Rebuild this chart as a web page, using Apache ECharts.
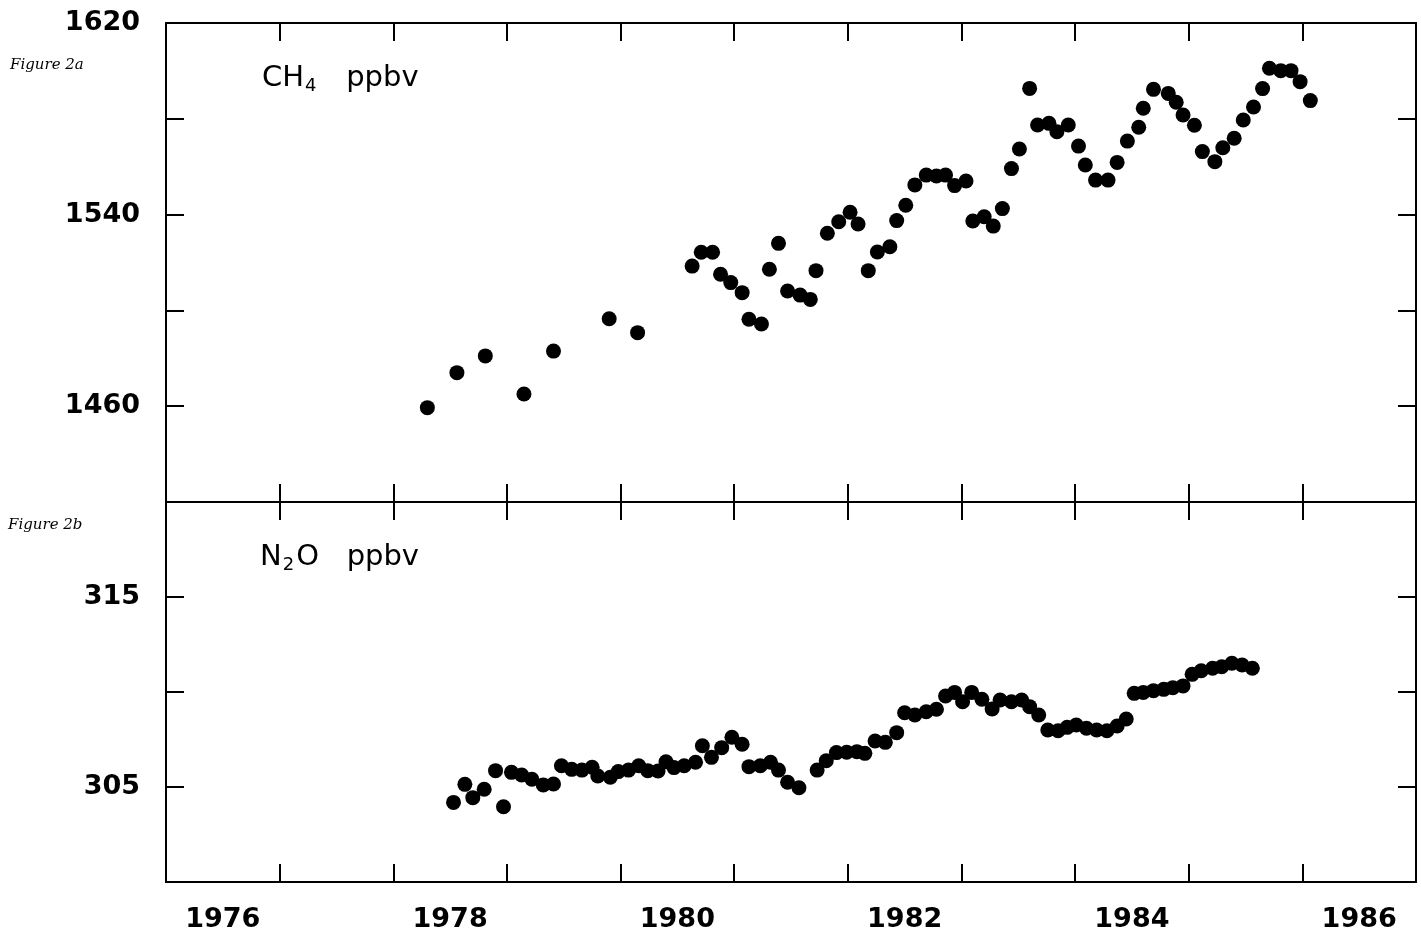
<!DOCTYPE html>
<html>
<head>
<meta charset="utf-8">
<title>CH4 / N2O</title>
<script src="https://cdn.jsdelivr.net/npm/echarts@6/dist/echarts.min.js"></script>
<style>
  html, body { margin: 0; padding: 0; background: #fff; }
  #chart { width: 1421px; height: 943px; }
</style>
</head>
<body>
<div id="chart"></div>
<script>
// x in decimal years, ticks on year boundaries, labels mid-year
var yearTicks = [1977, 1978, 1979, 1980, 1981, 1982, 1983, 1984, 1985, 1986];
var yearLabels = [1976.5, 1978.5, 1980.5, 1982.5, 1984.5, 1986.5];

var ch4Ticks = [1460, 1500, 1540, 1580];
var ch4Labels = [1460, 1540, 1620];
var n2oTicks = [305, 310, 315];
var n2oLabels = [305, 315];

// Figure 2a, CH4 (ppbv)
var ch4Years = [1978.30, 1978.56, 1978.81, 1979.15, 1979.41, 1979.90, 1980.15, 1980.63, 1980.71, 1980.81,
  1980.88, 1980.97, 1981.07, 1981.13, 1981.24, 1981.31, 1981.39, 1981.47, 1981.58, 1981.67,
  1981.72, 1981.82, 1981.92, 1982.02, 1982.09, 1982.18, 1982.26, 1982.37, 1982.43, 1982.51,
  1982.59, 1982.69, 1982.78, 1982.86, 1982.94, 1983.04, 1983.10, 1983.20, 1983.28, 1983.36,
  1983.44, 1983.51, 1983.60, 1983.67, 1983.77, 1983.84, 1983.94, 1984.03, 1984.09, 1984.18,
  1984.29, 1984.37, 1984.46, 1984.56, 1984.60, 1984.69, 1984.82, 1984.89, 1984.95, 1985.05,
  1985.12, 1985.23, 1985.30, 1985.40, 1985.48, 1985.57, 1985.65, 1985.71, 1985.81, 1985.90,
  1985.98, 1986.07];
var ch4Values = [1459.4, 1474.0, 1481.0, 1465.1, 1483.0, 1496.5, 1490.7, 1518.5, 1524.3, 1524.3,
  1515.1, 1511.6, 1507.4, 1496.3, 1494.3, 1517.2, 1528.0, 1508.1, 1506.4, 1504.6,
  1516.6, 1532.2, 1537.0, 1541.0, 1536.1, 1516.6, 1524.4, 1526.6, 1537.5, 1543.9,
  1552.4, 1556.5, 1556.1, 1556.5, 1552.1, 1554.0, 1537.3, 1539.1, 1535.2, 1542.5,
  1559.2, 1567.4, 1592.7, 1577.4, 1578.1, 1574.6, 1577.4, 1568.6, 1560.7, 1554.4,
  1554.4, 1561.8, 1570.7, 1576.5, 1584.4, 1592.3, 1590.6, 1586.9, 1581.6, 1577.3,
  1566.3, 1562.1, 1567.9, 1571.9, 1579.5, 1584.9, 1592.6, 1601.1, 1600.1, 1600.1,
  1595.5, 1587.6];

// Figure 2b, N2O (ppbv)
var n2oYears = [1978.53, 1978.63, 1978.70, 1978.80, 1978.90, 1978.97, 1979.04, 1979.13, 1979.22, 1979.32,
  1979.41, 1979.48, 1979.57, 1979.66, 1979.75, 1979.80, 1979.91, 1979.98, 1980.07, 1980.16,
  1980.24, 1980.33, 1980.40, 1980.47, 1980.56, 1980.66, 1980.72, 1980.80, 1980.89, 1980.98,
  1981.07, 1981.13, 1981.23, 1981.32, 1981.39, 1981.47, 1981.57, 1981.73, 1981.81, 1981.90,
  1981.99, 1982.08, 1982.15, 1982.24, 1982.33, 1982.43, 1982.50, 1982.59, 1982.69, 1982.78,
  1982.86, 1982.94, 1983.01, 1983.09, 1983.18, 1983.27, 1983.34, 1983.44, 1983.53, 1983.60,
  1983.68, 1983.76, 1983.85, 1983.93, 1984.01, 1984.10, 1984.19, 1984.28, 1984.37, 1984.45,
  1984.52, 1984.60, 1984.69, 1984.78, 1984.86, 1984.95, 1985.03, 1985.11, 1985.21, 1985.29,
  1985.38, 1985.47, 1985.56];
var n2oValues = [304.19, 305.14, 304.44, 304.88, 305.86, 303.96, 305.77, 305.63, 305.41, 305.11,
  305.16, 306.12, 305.93, 305.89, 306.04, 305.58, 305.51, 305.81, 305.89, 306.12,
  305.86, 305.84, 306.33, 306.02, 306.12, 306.30, 307.17, 306.56, 307.07, 307.62,
  307.25, 306.07, 306.12, 306.30, 305.89, 305.25, 304.96, 305.89, 306.38, 306.81,
  306.83, 306.86, 306.77, 307.42, 307.35, 307.86, 308.91, 308.79, 308.96, 309.09,
  309.79, 309.98, 309.49, 309.98, 309.62, 309.11, 309.58, 309.49, 309.58, 309.23,
  308.79, 308.00, 307.96, 308.14, 308.26, 308.09, 308.00, 307.96, 308.21, 308.58,
  309.93, 309.98, 310.07, 310.14, 310.23, 310.32, 310.93, 311.12, 311.25, 311.33,
  311.51, 311.42, 311.25];

var ink = '#000';
var labelFont = { color: ink, fontFamily: 'DejaVu Sans', fontWeight: 'bold', fontSize: 27 };

function xAxisFor(grid, pos, withLabels) {
  return {
    type: 'value', gridIndex: grid, position: pos,
    min: 1976, max: 1987, interval: 1,
    axisLine: { show: true, onZero: false, lineStyle: { color: ink, width: 2 } },
    axisTick: { show: true, inside: true, length: 18, customValues: yearTicks,
      lineStyle: { color: ink, width: 2 } },
    axisLabel: withLabels ? Object.assign({
      show: true, margin: 24, customValues: yearLabels,
      formatter: function (v) { return String(Math.floor(v)); }
    }, labelFont) : { show: false },
    splitLine: { show: false }
  };
}

function yAxisFor(grid, pos, min, max, ticks, labels) {
  return {
    type: 'value', gridIndex: grid, position: pos, min: min, max: max,
    axisLine: { show: true, onZero: false, lineStyle: { color: ink, width: 2 } },
    axisTick: { show: true, inside: true, length: 18, customValues: ticks,
      lineStyle: { color: ink, width: 2 } },
    axisLabel: labels ? Object.assign({
      show: true, margin: 26, customValues: labels,
      formatter: function (v) { return String(v); }
    }, labelFont) : { show: false },
    splitLine: { show: false }
  };
}

function pairs(xs, ys) {
  return xs.map(function (x, i) { return [x, ys[i]]; });
}

var dotStyle = { color: ink, opacity: 1 };
var textRich = {
  m: { fontFamily: 'DejaVu Sans', fontSize: 29, fill: ink },
  s: { fontFamily: 'DejaVu Sans', fontSize: 18, fill: ink, padding: [15, 2, 0, 1] }
};

var chart = echarts.init(document.getElementById('chart'));
chart.setOption({
  animation: false,
  backgroundColor: '#fff',
  grid: [
    { left: 166, top: 23, width: 1250, height: 479 },
    { left: 166, top: 502, width: 1250, height: 380 }
  ],
  xAxis: [
    xAxisFor(0, 'bottom', false),
    xAxisFor(0, 'top', false),
    xAxisFor(1, 'top', false),
    xAxisFor(1, 'bottom', true)
  ],
  yAxis: [
    yAxisFor(0, 'left', 1420, 1620, ch4Ticks, ch4Labels),
    yAxisFor(0, 'right', 1420, 1620, ch4Ticks, null),
    yAxisFor(1, 'left', 300, 320, n2oTicks, n2oLabels),
    yAxisFor(1, 'right', 300, 320, n2oTicks, null)
  ],
  series: [
    {
      name: 'CH4', type: 'scatter', xAxisIndex: 0, yAxisIndex: 0,
      symbol: 'circle', symbolSize: 15, itemStyle: dotStyle,
      data: pairs(ch4Years, ch4Values)
    },
    {
      name: 'N2O', type: 'scatter', xAxisIndex: 3, yAxisIndex: 2,
      symbol: 'circle', symbolSize: 15, itemStyle: dotStyle,
      data: pairs(n2oYears, n2oValues)
    }
  ],
  graphic: [
    {
      type: 'text', left: 262, top: 64,
      style: { text: '{m|CH}{s|4}{m|   ppbv}', rich: textRich }
    },
    {
      type: 'text', left: 260, top: 543,
      style: { text: '{m|N}{s|2}{m|O   ppbv}', rich: textRich }
    },
    {
      type: 'text', left: 10, top: 58,
      style: { text: 'Figure 2a', font: 'italic 15px "DejaVu Serif"', fill: ink }
    },
    {
      type: 'text', left: 8, top: 518,
      style: { text: 'Figure 2b', font: 'italic 15px "DejaVu Serif"', fill: ink }
    }
  ]
});
</script>
</body>
</html>
